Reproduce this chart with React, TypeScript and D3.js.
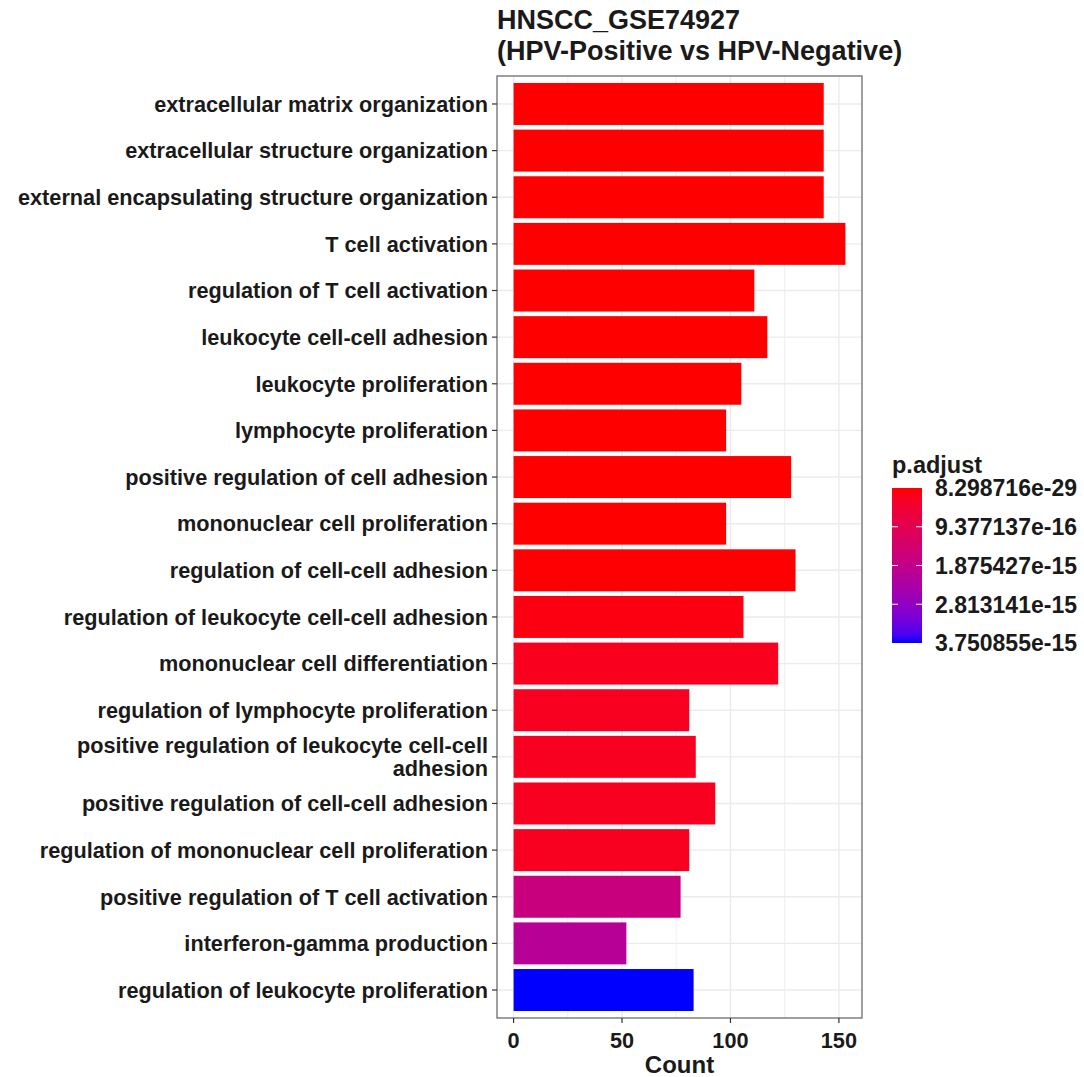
import React from "react";
import * as d3 from "d3";

const categories: string[] = [
  "extracellular matrix organization",
  "extracellular structure organization",
  "external encapsulating structure organization",
  "T cell activation",
  "regulation of T cell activation",
  "leukocyte cell-cell adhesion",
  "leukocyte proliferation",
  "lymphocyte proliferation",
  "positive regulation of cell adhesion",
  "mononuclear cell proliferation",
  "regulation of cell-cell adhesion",
  "regulation of leukocyte cell-cell adhesion",
  "mononuclear cell differentiation",
  "regulation of lymphocyte proliferation",
  "positive regulation of leukocyte cell-cell adhesion",
  "positive regulation of cell-cell adhesion",
  "regulation of mononuclear cell proliferation",
  "positive regulation of T cell activation",
  "interferon-gamma production",
  "regulation of leukocyte proliferation",
];

const counts: number[] = [143, 143, 143, 153, 111, 117, 105, 98, 128, 98, 130, 106, 122, 81, 84, 93, 81, 77, 52, 83];

const pAdjust: number[] = [
  8.298716e-29, 8.3e-29, 9.1e-29, 2.4e-27, 1.5e-22, 3.2e-22, 2.1e-20, 6.3e-20, 1.1e-19, 2.0e-19,
  1.2e-17, 1.1e-16, 2.3e-16, 2.4e-16, 2.4e-16, 2.4e-16, 2.4e-16, 1.71e-15, 2.1e-15, 3.750855e-15,
];

const xTicks: number[] = [0, 50, 100, 150];
const xMinorTicks: number[] = [25, 75, 125];
const legendLabels: string[] = ["8.298716e-29", "9.377137e-16", "1.875427e-15", "2.813141e-15", "3.750855e-15"];

const titleLines = ["HNSCC_GSE74927", "(HPV-Positive vs HPV-Negative)"];

const wrapLabel = (s: string): string[] =>
  s === "positive regulation of leukocyte cell-cell adhesion"
    ? ["positive regulation of leukocyte cell-cell", "adhesion"]
    : [s];

export default function App() {
  const W = 1084, H = 1077;
  const panel = { left: 497, right: 862, top: 76, bottom: 1018 };
  const font = "'Liberation Sans', Arial, Helvetica, sans-serif";
  const textColor = "#1a1a1a";

  const maxC = d3.max(counts) as number;
  const x = d3
    .scaleLinear()
    .domain([-0.05 * maxC, maxC * 1.05])
    .range([panel.left, panel.right]);

  const y = d3
    .scaleBand<string>()
    .domain(categories)
    .range([panel.top, panel.bottom])
    .paddingInner(0.1)
    .paddingOuter(0.15);

  const pMin = d3.min(pAdjust) as number;
  const pMax = d3.max(pAdjust) as number;
  const color = d3
    .scaleLinear<string>()
    .domain([pMin, pMax])
    .range(["red", "blue"])
    .interpolate(d3.interpolateLab);

  const leg = { x: 892, w: 30, top: 488, bottom: 643 };
  const legY = d3.scaleLinear().domain([0, legendLabels.length - 1]).range([leg.top, leg.bottom]);
  const stops = d3.range(0, 1.0001, 0.05);

  return (
    <svg width={W} height={H} style={{ position: "absolute", left: 0, top: 0, background: "#fff" }} fontFamily={font}>
      <defs>
        <linearGradient id="pgrad" x1="0" y1="0" x2="0" y2="1">
          {stops.map((t) => (
            <stop key={t} offset={t} stopColor={color(pMin + t * (pMax - pMin))} />
          ))}
        </linearGradient>
      </defs>
      <rect x={0} y={0} width={W} height={H} fill="#fff" />

      {/* title */}
      {titleLines.map((t, i) => (
        <text key={t} x={panel.left} y={29 + i * 31} fontSize={27} fontWeight="bold" fill={textColor}>
          {t}
        </text>
      ))}

      {/* grid */}
      {xMinorTicks.map((v) => (
        <line key={"mn" + v} x1={x(v)} x2={x(v)} y1={panel.top} y2={panel.bottom} stroke="#ebebeb" strokeWidth={0.8} />
      ))}
      {categories.map((c) => (
        <line
          key={"hg" + c}
          x1={panel.left}
          x2={panel.right}
          y1={(y(c) as number) + y.bandwidth() / 2}
          y2={(y(c) as number) + y.bandwidth() / 2}
          stroke="#ebebeb"
          strokeWidth={1.4}
        />
      ))}
      {xTicks.map((v) => (
        <line key={"mj" + v} x1={x(v)} x2={x(v)} y1={panel.top} y2={panel.bottom} stroke="#ebebeb" strokeWidth={1.4} />
      ))}

      {/* bars */}
      {categories.map((c, i) => (
        <rect
          key={"b" + c}
          x={x(0)}
          y={y(c) as number}
          width={x(counts[i]) - x(0)}
          height={y.bandwidth()}
          fill={color(pAdjust[i])}
        />
      ))}

      {/* panel border */}
      <rect
        x={panel.left}
        y={panel.top}
        width={panel.right - panel.left}
        height={panel.bottom - panel.top}
        fill="none"
        stroke="#777"
        strokeWidth={1.4}
      />

      {/* y axis */}
      {categories.map((c) => {
        const cy = (y(c) as number) + y.bandwidth() / 2;
        const lines = wrapLabel(c);
        const lh = 23.5;
        return (
          <g key={"yl" + c}>
            <line x1={panel.left - 5} x2={panel.left} y1={cy} y2={cy} stroke="#333" strokeWidth={1.2} />
            <text
              x={panel.left - 9}
              y={cy}
              textAnchor="end"
              fontSize={21.7}
              fontWeight="bold"
              fill={textColor}
            >
              {lines.map((l, k) => (
                <tspan key={k} x={panel.left - 9} y={cy + (k - (lines.length - 1) / 2) * lh} dy="0.36em">
                  {l}
                </tspan>
              ))}
            </text>
          </g>
        );
      })}

      {/* x axis */}
      {xTicks.map((v) => (
        <g key={"xt" + v}>
          <line x1={x(v)} x2={x(v)} y1={panel.bottom} y2={panel.bottom + 5} stroke="#333" strokeWidth={1.2} />
          <text x={x(v)} y={panel.bottom + 22} dy="0.36em" textAnchor="middle" fontSize={21.7} fontWeight="bold" fill={textColor}>
            {v}
          </text>
        </g>
      ))}
      <text
        x={(panel.left + panel.right) / 2}
        y={1064}
        dy="0.36em"
        textAnchor="middle"
        fontSize={24}
        fontWeight="bold"
        fill={textColor}
      >
        Count
      </text>

      {/* legend */}
      <text x={leg.x} y={465} dy="0.36em" fontSize={23.5} fontWeight="bold" fill={textColor}>
        p.adjust
      </text>
      <rect x={leg.x} y={leg.top} width={leg.w} height={leg.bottom - leg.top} fill="url(#pgrad)" />
      {legendLabels.map((l, i) => (
        <g key={"lg" + l}>
          {i > 0 && i < legendLabels.length - 1 && (
            <>
              <line x1={leg.x} x2={leg.x + 6} y1={legY(i)} y2={legY(i)} stroke="#fff" strokeWidth={1} />
              <line x1={leg.x + leg.w - 6} x2={leg.x + leg.w} y1={legY(i)} y2={legY(i)} stroke="#fff" strokeWidth={1} />
            </>
          )}
          <text x={935} y={legY(i)} dy="0.36em" fontSize={23} fontWeight="bold" fill={textColor}>
            {l}
          </text>
        </g>
      ))}
    </svg>
  );
}
